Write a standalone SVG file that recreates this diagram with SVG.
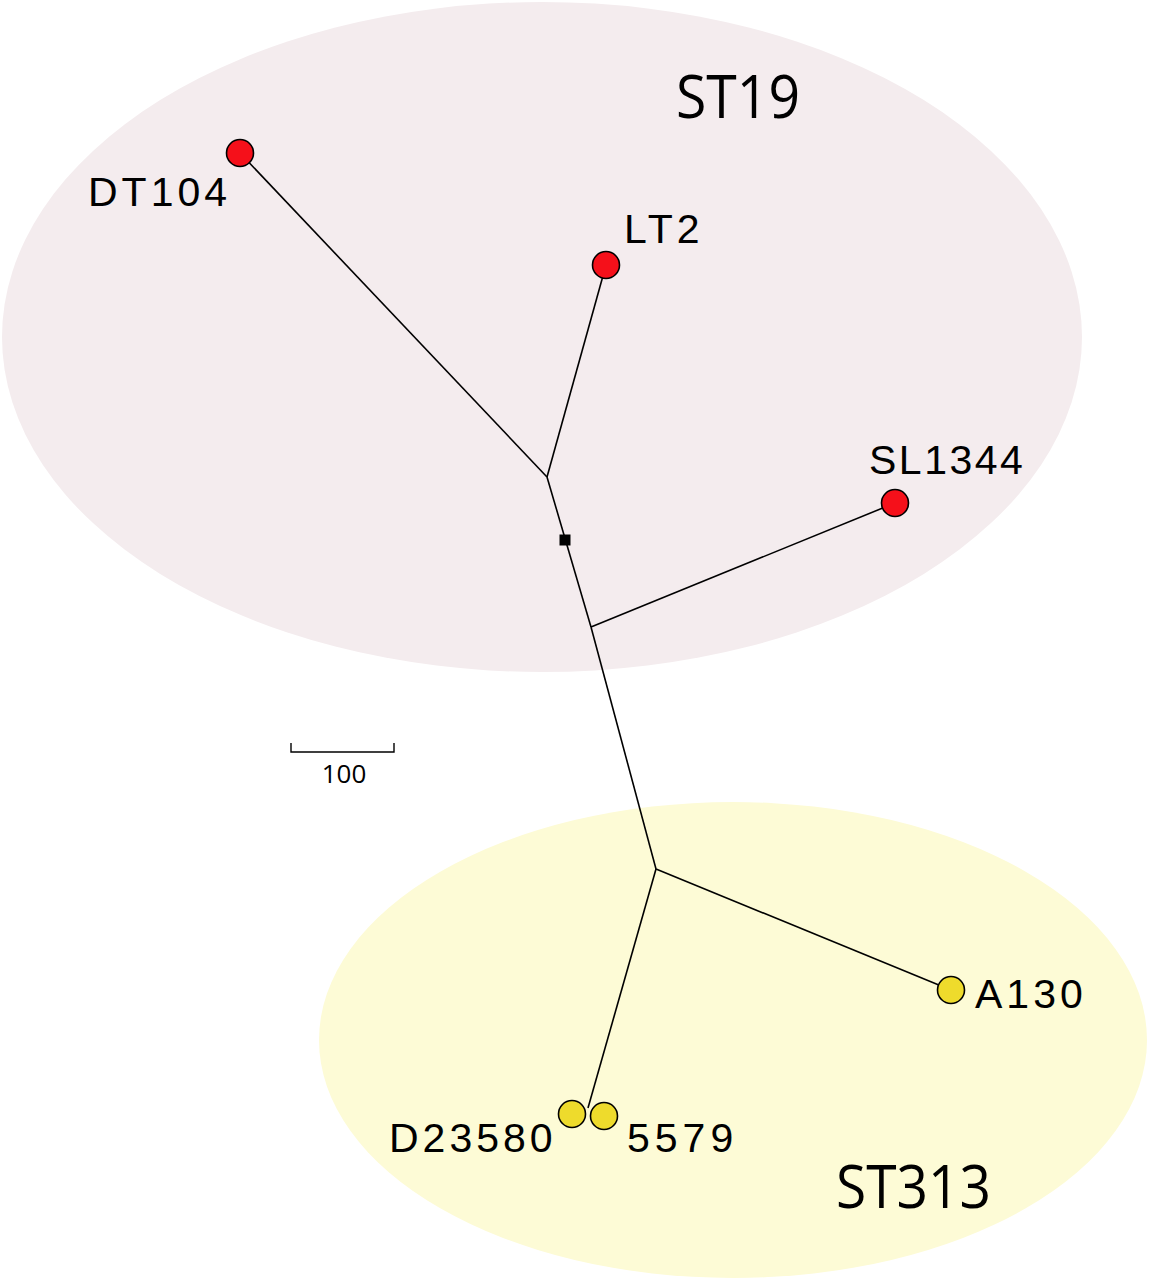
<svg xmlns="http://www.w3.org/2000/svg" width="1150" height="1280" viewBox="0 0 1150 1280">
<style>
.lbl{font-family:"Liberation Sans",Arial,sans-serif;font-size:41px;letter-spacing:4px;fill:#000}
.grp{font-family:"Open Sans","Noto Sans",sans-serif;font-size:60px;fill:#000}
.edge{stroke:#000;stroke-width:1.6;fill:none}
.red{fill:#f5101a;stroke:#000;stroke-width:1.6}
.yel{fill:#eedb2c;stroke:#000;stroke-width:1.6}
</style>
<rect width="1150" height="1280" fill="#fff"/>
<g id="clusters">
<ellipse cx="542" cy="337" rx="540" ry="335" fill="#f4ecee"/>
<ellipse cx="733" cy="1040" rx="414" ry="238" fill="#fdfbd6"/>
<text class="grp" x="676" y="118" textLength="124" lengthAdjust="spacingAndGlyphs">ST19</text>
<text class="grp" x="836" y="1208" textLength="155" lengthAdjust="spacingAndGlyphs">ST313</text>
</g>
<g id="connectors">
<line class="edge" x1="240" y1="153" x2="547" y2="477"/>
<line class="edge" x1="606" y1="265" x2="547" y2="477"/>
<line class="edge" x1="547" y1="477" x2="591" y2="627"/>
<line class="edge" x1="895" y1="503" x2="591" y2="627"/>
<line class="edge" x1="591" y1="627" x2="656" y2="869"/>
<line class="edge" x1="951" y1="990" x2="656" y2="869"/>
<line class="edge" x1="656" y1="869" x2="588" y2="1108"/>
</g>
<g id="root">
<rect x="559.5" y="534.5" width="11" height="11" fill="#000"/>
</g>
<g id="DT104">
<circle class="red" cx="240" cy="153" r="13.5"/>
<text class="lbl" x="88" y="206">DT104</text>
</g>
<g id="LT2">
<circle class="red" cx="606" cy="265" r="13.5"/>
<text class="lbl" x="624" y="243">LT2</text>
</g>
<g id="SL1344">
<circle class="red" cx="895" cy="503" r="13.5"/>
<text class="lbl" x="869" y="474" style="letter-spacing:2.5px">SL1344</text>
</g>
<g id="A130">
<circle class="yel" cx="951" cy="990" r="13.5"/>
<text class="lbl" x="975" y="1008">A130</text>
</g>
<g id="D23580">
<circle class="yel" cx="572" cy="1114" r="13.5"/>
<text class="lbl" x="389" y="1152">D23580</text>
</g>
<g id="n5579">
<circle class="yel" cx="604" cy="1116" r="13.5"/>
<text class="lbl" x="627" y="1152" style="letter-spacing:5px">5579</text>
</g>
<g id="scale">
<path d="M291 743 V752 H394 V743" fill="none" stroke="#000" stroke-width="1.4"/>
<text x="344" y="783" text-anchor="middle" font-family="Open Sans, Noto Sans, sans-serif" font-size="26">100</text>
</g>
</svg>
